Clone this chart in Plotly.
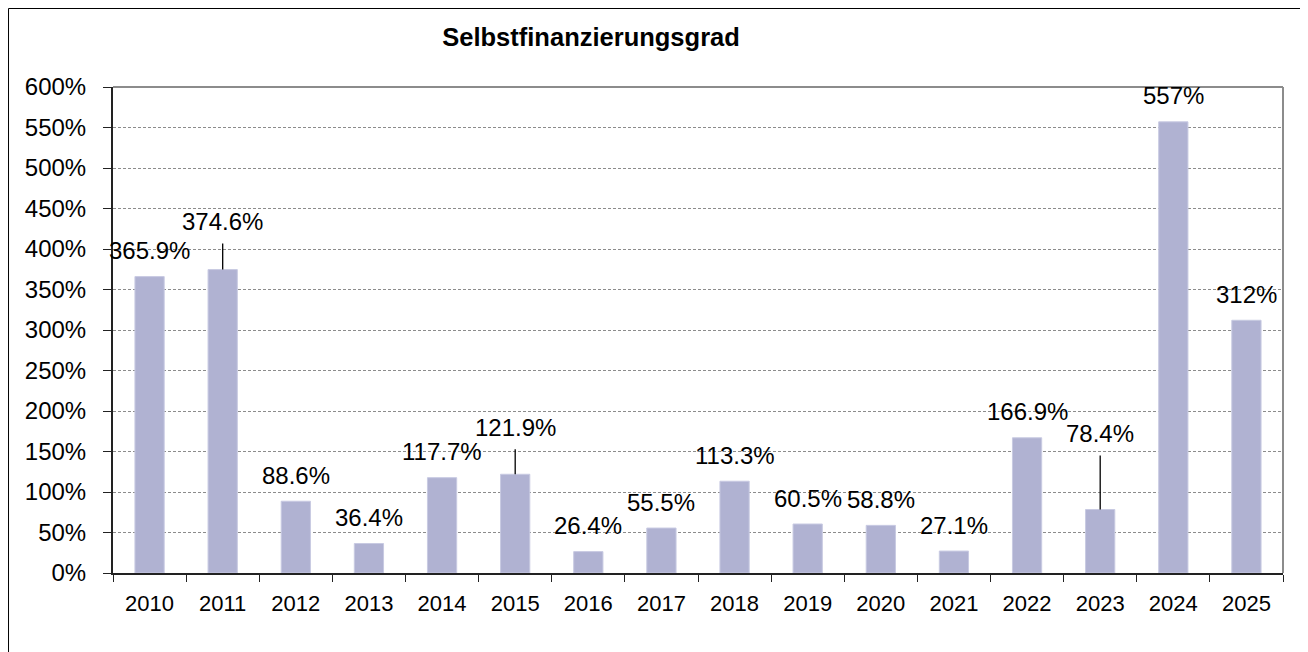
import plotly.graph_objects as go

# --- Daten ---
jahre = ["2010", "2011", "2012", "2013", "2014", "2015", "2016", "2017",
         "2018", "2019", "2020", "2021", "2022", "2023", "2024", "2025"]
werte = [365.9, 374.6, 88.6, 36.4, 117.7, 121.9, 26.4, 55.5,
         113.3, 60.5, 58.8, 27.1, 166.9, 78.4, 557, 312]
beschriftung = ["365.9%", "374.6%", "88.6%", "36.4%", "117.7%", "121.9%", "26.4%", "55.5%",
                "113.3%", "60.5%", "58.8%", "27.1%", "166.9%", "78.4%", "557%", "312%"]
# Jahre mit Führungslinie zur Beschriftung
mit_linie = {"2011": -48, "2015": -47, "2023": -76}

schrift = "Liberation Sans, Arial, sans-serif"
gr_label = 24
gr_y = 24
gr_x = 22

fig = go.Figure()
fig.add_trace(go.Bar(
    x=jahre, y=werte,
    marker=dict(color="#B0B2D2", line=dict(color="#C8CAE2", width=1)),
    hoverinfo="x+y",
))

# --- Beschriftungen (x als Kategorie-Index) ---
anmerkungen = []
for i, (jahr, wert, text) in enumerate(zip(jahre, werte, beschriftung)):
    if jahr in mit_linie:
        anmerkungen.append(dict(
            x=i, y=wert, text=text, showarrow=True, arrowhead=0,
            arrowwidth=1.3, arrowcolor="black", ax=0, ay=mit_linie[jahr],
            startstandoff=7, font=dict(size=gr_label, color="black", family=schrift),
        ))
    else:
        anmerkungen.append(dict(
            x=i, y=wert, text=text, showarrow=False, yanchor="middle",
            yshift=26, font=dict(size=gr_label, color="black", family=schrift),
        ))

# Seite hat 8px Rand, daher Figur 1300x644
fig.update_layout(
    width=1300, height=644,
    margin=dict(l=105, r=25, t=79, b=79),
    paper_bgcolor="white", plot_bgcolor="white",
    showlegend=False,
    bargap=0.6,
    font=dict(family=schrift, size=gr_y, color="black"),
    title=dict(text="<b>Selbstfinanzierungsgrad</b>", xref="container", x=0.4485,
               xanchor="center", yref="container", y=0.955, yanchor="middle",
               font=dict(size=25.5, family=schrift, color="black")),
    annotations=anmerkungen,
    shapes=[
        # Rahmen des Diagrammbereichs (oben und rechts grau)
        dict(type="line", xref="paper", yref="paper", x0=0, x1=1, y0=1, y1=1,
             line=dict(color="#8C8C8C", width=2), layer="above"),
        dict(type="line", xref="paper", yref="paper", x0=1, x1=1, y0=0, y1=1,
             line=dict(color="#8C8C8C", width=2), layer="above"),
        # äußerer Rahmen
        dict(type="rect", xref="paper", yref="paper",
             x0=-0.0893, x1=1.05, y0=-0.25, y1=1.1615,
             line=dict(color="black", width=1), layer="above"),
    ],
)

fig.update_xaxes(
    type="category", range=[-0.5, 15.5], automargin=False,
    showline=True, linecolor="#222222", linewidth=2,
    ticks="outside", tickson="boundaries", ticklen=7, tickcolor="#222222",
    showgrid=False, ticklabelstandoff=10, tickangle=0,
    tickfont=dict(size=gr_x, family=schrift, color="black"),
)
fig.update_yaxes(
    range=[0, 600], dtick=50, ticksuffix="%", automargin=False,
    showline=True, linecolor="#222222", linewidth=2,
    ticks="outside", ticklen=8, tickcolor="#222222",
    showgrid=True, gridcolor="#8C8C8C", gridwidth=1, griddash="3px,2px",
    zeroline=False, ticklabelstandoff=12,
    tickfont=dict(size=gr_y, family=schrift, color="black"),
)

fig.write_html("out.html")
